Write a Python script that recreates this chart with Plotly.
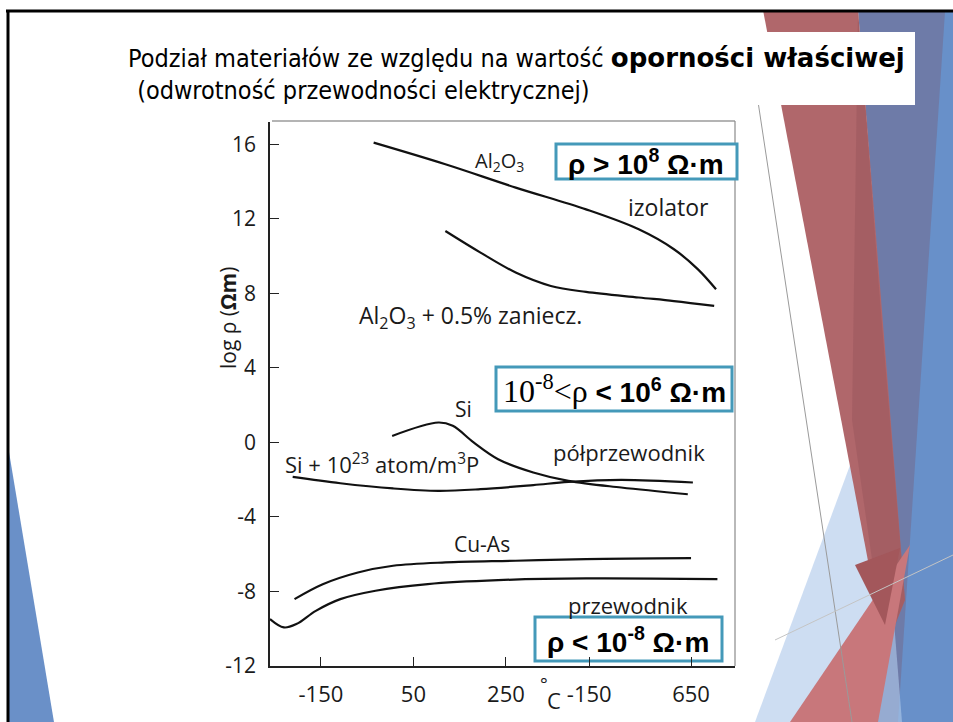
import plotly.graph_objects as go

# ---------------- data ----------------
al2o3_x = [-36, 119, 271, 423, 537, 613, 665, 704]
al2o3_y = [16.09, 14.93, 13.68, 12.51, 11.44, 10.37, 9.29, 8.22]

al2o3_imp_x = [119, 195, 271, 347, 423, 537, 613, 700]
al2o3_imp_y = [11.35, 10.19, 9.12, 8.40, 8.08, 7.78, 7.59, 7.33]

si_x = [4, 104, 135, 180, 233, 309, 385, 499, 643]
si_y = [0.35, 1.07, 0.89, 0.0, -0.90, -1.61, -2.06, -2.42, -2.78]

sip_x = [-211, -108, 6, 104, 195, 309, 385, 499, 654]
sip_y = [-1.85, -2.19, -2.47, -2.60, -2.51, -2.29, -2.12, -2.01, -2.15]

cuas_x = [-207, -146, -70, 6, 119, 271, 423, 650]
cuas_y = [-8.41, -7.61, -6.98, -6.62, -6.44, -6.35, -6.26, -6.21]

cu_x = [-260, -230, -203, -161, -108, -32, 81, 233, 423, 707]
cu_y = [-9.48, -9.93, -9.75, -9.04, -8.41, -7.96, -7.60, -7.39, -7.30, -7.34]

x_tick_vals = [-150, 50, 250, 430, 650]
x_tick_text = ["-150", "50", "250", "-150", "650"]
y_tick_vals = [-12, -8, -4, 0, 4, 8, 12, 16]
y_tick_text = ["-12", "-8", "-4", "0", "4", "8", "12", "16"]

# ---------------- layout geometry ----------------
W, H = 953, 722
L, R, T, B = 270, 735, 122, 666


def px(x):
    return (x - L) / (R - L)


def py(y):
    return (B - y) / (B - T)


def poly(points):
    return "M " + " L ".join(f"{px(a):.5f},{py(b):.5f}" for a, b in points) + " Z"


HAND = "Open Sans"

fig = go.Figure()
series = [
    (al2o3_x, al2o3_y),
    (al2o3_imp_x, al2o3_imp_y),
    (si_x, si_y),
    (sip_x, sip_y),
    (cuas_x, cuas_y),
    (cu_x, cu_y),
]
for xs, ys in series:
    fig.add_trace(go.Scatter(x=xs, y=ys, mode="lines",
                             line=dict(color="#111111", width=2.2, shape="spline", smoothing=1.0),
                             hoverinfo="skip", showlegend=False))

shapes = []


def add_shape(**kw):
    kw.setdefault("xref", "paper")
    kw.setdefault("yref", "paper")
    shapes.append(kw)


# slide decorations (right side)
add_shape(type="path", path=poly([(858, 10), (953, 10), (953, 722), (860, 722), (900, 560)]),
          fillcolor="#6E7BA8", line=dict(width=0), layer="above")
add_shape(type="path", path=poly([(945, 12), (953, 12), (953, 722), (898, 722)]),
          fillcolor="#6890C9", line=dict(width=0), layer="above")
add_shape(type="path", path=poly([(755, 722), (876, 395), (902, 722)]),
          fillcolor="rgba(175,200,234,0.62)", line=dict(width=0), layer="above")
add_shape(type="path", path=poly([(763, 10), (858, 10), (905, 600), (885, 650)]),
          fillcolor="#B0676B", line=dict(width=0), layer="above")
add_shape(type="path", path=poly([(858, 10), (880, 300), (905, 600), (885, 650), (852, 420)]),
          fillcolor="rgba(150,85,92,0.45)", line=dict(width=0), layer="above")
add_shape(type="path", path=poly([(790, 722), (878, 722), (910, 545)]),
          fillcolor="#C8777B", line=dict(width=0), layer="above")
add_shape(type="path", path=poly([(855, 565), (900, 548), (885, 625)]),
          fillcolor="#A3575B", line=dict(width=0), layer="above")
add_shape(type="line", x0=px(757), y0=py(95), x1=px(852), y1=py(722),
          line=dict(color="#9a9a9a", width=1), layer="above")
add_shape(type="line", x0=px(775), y0=py(640), x1=px(953), y1=py(555),
          line=dict(color="#c4c4c4", width=1), layer="above")
# bottom-left blue triangle
add_shape(type="path", path=poly([(9, 452), (9, 722), (54, 722)]),
          fillcolor="#6A90C8", line=dict(width=0), layer="above")
# slide black border
add_shape(type="line", x0=px(6), y0=py(11), x1=px(953), y1=py(11),
          line=dict(color="black", width=3), layer="above")
add_shape(type="line", x0=px(8), y0=py(10), x1=px(8), y1=py(722),
          line=dict(color="black", width=3), layer="above")
# title white box
add_shape(type="rect", x0=px(115), y0=py(32), x1=px(915), y1=py(105),
          fillcolor="white", line=dict(width=0), layer="above")
# chart image frame (top and right)
add_shape(type="line", x0=px(272), y0=py(121), x1=px(735), y1=py(121),
          line=dict(color="#6a6a6a", width=1.2), layer="below")
add_shape(type="line", x0=px(735), y0=py(121), x1=px(735), y1=py(666),
          line=dict(color="#8a8a8a", width=1.2), layer="below")
# value boxes
BOX = "#4499B9"
for (x0, y0, x1, y1) in [(556, 144, 737, 179), (496, 367, 732, 411), (535, 617, 722, 661)]:
    add_shape(type="rect", x0=px(x0), y0=py(y0), x1=px(x1), y1=py(y1),
              fillcolor="white", line=dict(color=BOX, width=3), layer="below")

ann = []


def text(x, y, s, size=19, family=HAND, anchor="center", color="#1a1a1a", angle=0):
    ann.append(dict(x=px(x), y=py(y), xref="paper", yref="paper", text=s, showarrow=False,
                    xanchor=anchor, yanchor="middle", textangle=angle,
                    font=dict(family=family, size=size, color=color)))


# title
TF = "DejaVu Sans Condensed"
text(126, 58, "Podział materiałów ze względu na wartość "
     "<span style='font-family:DejaVu Sans;font-size:26px'><b>oporności właściwej</b></span>",
     size=25, family=TF, anchor="left", color="black")
text(128, 90, " (odwrotność przewodności elektrycznej)", size=25, family=TF, anchor="left", color="black")

# curve labels
text(499, 162, "Al<sub>2</sub>O<sub>3</sub>", 20)
text(668, 207, "izolator", 23)
text(470, 316, "Al<sub>2</sub>O<sub>3</sub> + 0.5% zaniecz.", 23)
text(463, 409, "Si", 21)
text(382, 463, "Si + 10<sup>23</sup> atom/m<sup>3</sup>P", 22)
text(629, 452, "półprzewodnik", 22)
text(482, 544, "Cu-As", 21)
text(628, 605, "przewodnik", 22)
text(228, 318, "log ρ (<b>Ωm</b>)", 21, angle=-90)
text(544, 684, "°", 18)
text(554, 700, "C", 22)

# box labels
SANS = "Liberation Sans"
text(646, 162, "<b>ρ > 10<sup>8</sup> Ω·m</b>", 28, family=SANS, color="black")
text(614, 389, "<span style='font-family:Liberation Serif;font-size:32px'>10<sup>-8</sup>&lt;ρ</span>"
     "<b> &lt; 10<sup>6</sup> Ω·m</b>", 28, family=SANS, color="black")
text(628, 640, "<b>ρ &lt; 10<sup>-8</sup> Ω·m</b>", 28, family=SANS, color="black")

fig.update_layout(
    width=W, height=H,
    margin=dict(l=L, r=W - R, t=T, b=H - B, pad=0),
    paper_bgcolor="white", plot_bgcolor="white",
    shapes=shapes, annotations=ann, showlegend=False,
    xaxis=dict(range=[-260, 745], tickvals=x_tick_vals, ticktext=x_tick_text,
               ticks="inside", ticklen=9, tickwidth=1.3, tickcolor="#222",
               showline=True, linecolor="#222", linewidth=1.6,
               showgrid=False, zeroline=False, ticklabelstandoff=8,
               tickfont=dict(family=HAND, size=22, color="#1a1a1a")),
    yaxis=dict(range=[-12, 17.2], tickvals=y_tick_vals, ticktext=y_tick_text,
               ticks="inside", ticklen=9, tickwidth=1.3, tickcolor="#222",
               showline=True, linecolor="#222", linewidth=1.6,
               showgrid=False, zeroline=False, ticklabelstandoff=8,
               tickfont=dict(family=HAND, size=21, color="#1a1a1a")),
)

fig.write_html("out.html", config={"displayModeBar": False},
               post_script="document.body.style.margin='0';document.body.style.overflow='hidden';")
